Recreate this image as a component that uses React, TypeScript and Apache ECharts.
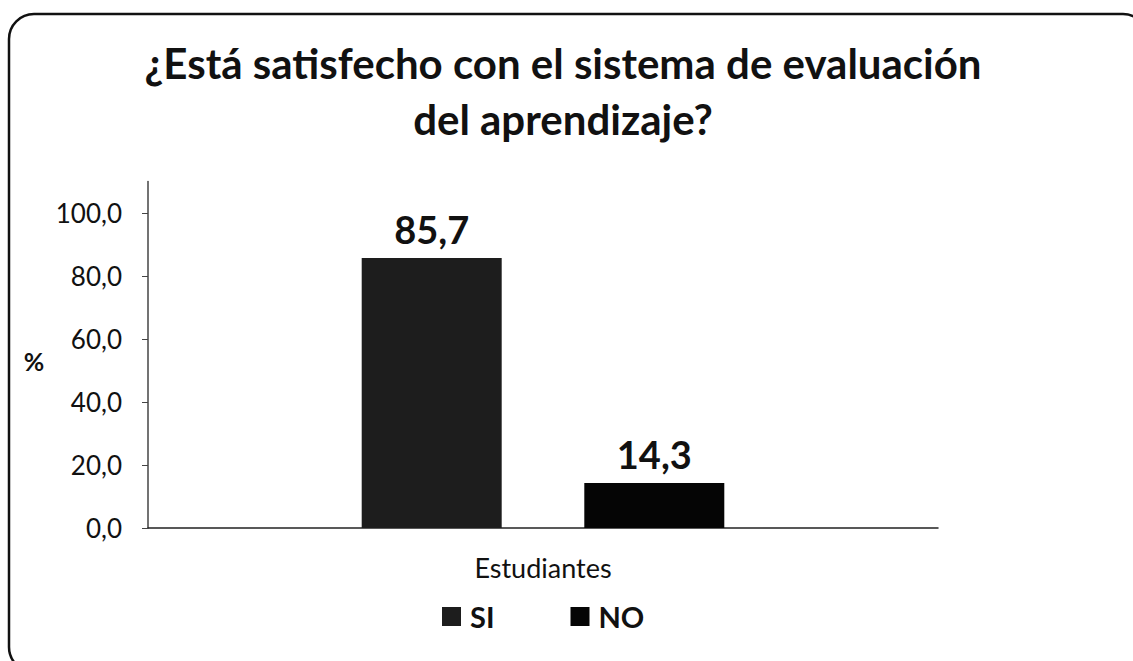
import React, { useEffect, useRef } from "react";
import * as echarts from "echarts";

const categories = ["Estudiantes"];
const seriesNames = ["SI", "NO"];
const siValues = [85.7];
const noValues = [14.3];
const yTicks = [0, 20, 40, 60, 80, 100];
const titleText = "¿Está satisfecho con el sistema de evaluación\ndel aprendizaje?";
const FONT = "Lato, 'Open Sans', sans-serif";

const fmt = (v: number) => v.toFixed(1).replace(".", ",");

export default function App() {
  const ref = useRef<HTMLDivElement>(null);
  useEffect(() => {
    if (!ref.current) return;
    const chart = echarts.init(ref.current, undefined, { renderer: "svg" });
    chart.setOption({
      animation: false,
      backgroundColor: "#ffffff",
      textStyle: { fontFamily: FONT, color: "#111" },
      graphic: [
        {
          type: "rect",
          shape: { x: 9, y: 14, width: 1139, height: 658, r: 25 },
          style: { fill: "none", stroke: "#111", lineWidth: 2.5 },
          silent: true,
        },
        {
          type: "text",
          x: 563,
          y: 35,
          style: {
            text: titleText,
            textAlign: "center",
            textVerticalAlign: "top",
            font: `bold 42px ${FONT}`,
            lineHeight: 56,
            fill: "#111",
          },
        },
        {
          type: "text",
          x: 34,
          y: 361,
          style: {
            text: "%",
            textAlign: "center",
            textVerticalAlign: "middle",
            font: `bold 25px ${FONT}`,
            fill: "#111",
          },
        },
      ],
      grid: { left: 148, right: 195, top: 181.5, bottom: 133, containLabel: false },
      legend: {
        bottom: 25,
        left: 437,
        itemWidth: 19,
        itemHeight: 19,
        itemGap: 76,
        icon: "rect",
        data: seriesNames,
        textStyle: {
          fontFamily: FONT,
          fontSize: 29,
          fontWeight: "bold",
          color: "#111",
          padding: [0, 0, 0, 4],
        },
      },
      xAxis: {
        type: "category",
        data: categories,
        axisLine: { lineStyle: { color: "#222", width: 1.5 } },
        axisTick: { show: false },
        axisLabel: { margin: 26, fontSize: 27, color: "#111", fontFamily: FONT },
      },
      yAxis: {
        type: "value",
        min: 0,
        max: 110,
        interval: 20,
        splitLine: { show: false },
        axisLine: { show: true, lineStyle: { color: "#444", width: 1.5 } },
        axisTick: { show: true, length: 6, customValues: yTicks, lineStyle: { color: "#444" } },
        axisLabel: {
          customValues: yTicks,
          margin: 26,
          fontSize: 26,
          color: "#111",
          fontFamily: FONT,
          formatter: (v: number) => fmt(v),
        },
      },
      series: [
        {
          name: seriesNames[0],
          type: "bar",
          data: siValues,
          barWidth: 140,
          barGap: "59%",
          itemStyle: { color: "#1d1d1d" },
          label: {
            show: true,
            position: "top",
            distance: 10,
            fontSize: 38,
            fontWeight: "bold",
            color: "#111",
            fontFamily: FONT,
            formatter: (p: any) => fmt(p.value),
          },
        },
        {
          name: seriesNames[1],
          type: "bar",
          data: noValues,
          barWidth: 140,
          itemStyle: { color: "#050505" },
          label: {
            show: true,
            position: "top",
            distance: 10,
            fontSize: 38,
            fontWeight: "bold",
            color: "#111",
            fontFamily: FONT,
            formatter: (p: any) => fmt(p.value),
          },
        },
      ],
    });
    return () => chart.dispose();
  }, []);
  return (
    <div
      ref={ref}
      style={{ position: "fixed", left: 0, top: 0, width: 1133, height: 661 }}
    />
  );
}
